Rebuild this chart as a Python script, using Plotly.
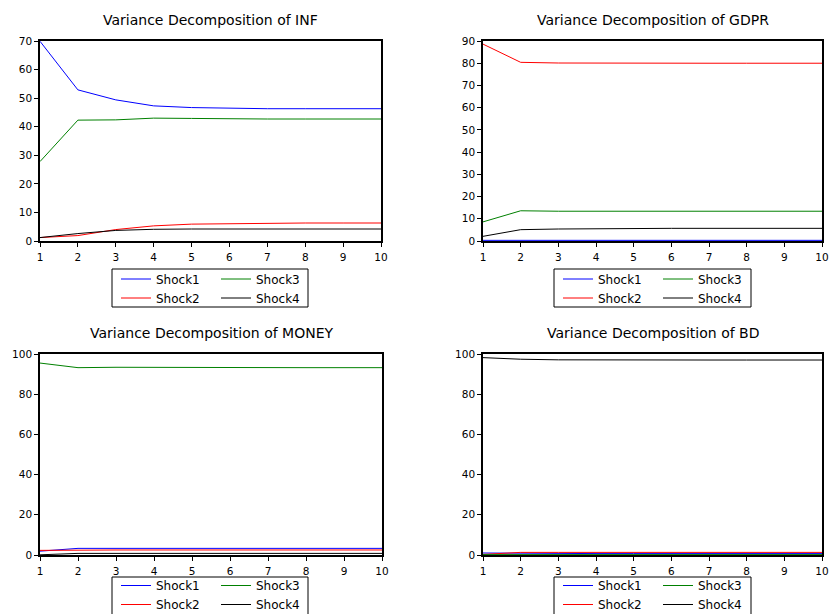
import plotly.graph_objects as go

periods = [1, 2, 3, 4, 5, 6, 7, 8, 9, 10]
shock_names = ["Shock1", "Shock2", "Shock3", "Shock4"]
shock_colors = ["#0000ff", "#ff0000", "#008000", "#000000"]

# Variance decomposition of INF
inf_shock1 = [69.9, 52.9, 49.4, 47.3, 46.7, 46.4, 46.3, 46.3, 46.3, 46.3]
inf_shock2 = [1.2, 1.9, 4.0, 5.3, 5.9, 6.1, 6.3, 6.3, 6.3, 6.3]
inf_shock3 = [27.8, 42.3, 42.4, 43.0, 42.9, 42.7, 42.7, 42.7, 42.7, 42.7]
inf_shock4 = [1.2, 2.6, 3.7, 4.1, 4.2, 4.2, 4.2, 4.2, 4.2, 4.2]

# Variance decomposition of GDPR
gdpr_shock1 = [0.3, 0.3, 0.3, 0.3, 0.3, 0.3, 0.3, 0.3, 0.3, 0.3]
gdpr_shock2 = [88.6, 80.4, 80.1, 80.0, 80.0, 80.0, 80.0, 80.0, 80.0, 80.0]
gdpr_shock3 = [8.6, 13.6, 13.4, 13.4, 13.4, 13.4, 13.4, 13.4, 13.4, 13.4]
gdpr_shock4 = [2.1, 5.1, 5.4, 5.6, 5.7, 5.7, 5.7, 5.7, 5.7, 5.7]

# Variance decomposition of MONEY
money_shock1 = [1.9, 3.3, 3.3, 3.3, 3.3, 3.3, 3.3, 3.3, 3.3, 3.3]
money_shock2 = [2.3, 2.5, 2.5, 2.5, 2.5, 2.5, 2.5, 2.5, 2.5, 2.5]
money_shock3 = [95.5, 93.2, 93.4, 93.3, 93.2, 93.2, 93.2, 93.2, 93.2, 93.2]
money_shock4 = [0.1, 0.8, 0.8, 0.8, 0.8, 0.8, 0.8, 0.8, 0.8, 0.8]

# Variance decomposition of BD
bd_shock1 = [1.0, 0.8, 0.7, 0.7, 0.7, 0.7, 0.7, 0.7, 0.7, 0.7]
bd_shock2 = [0.3, 1.3, 1.3, 1.3, 1.3, 1.3, 1.3, 1.3, 1.3, 1.3]
bd_shock3 = [0.2, 0.2, 0.2, 0.2, 0.2, 0.2, 0.2, 0.2, 0.2, 0.2]
bd_shock4 = [98.2, 97.4, 97.1, 97.0, 97.0, 97.0, 97.0, 97.0, 97.0, 97.0]

panel_titles = ["Variance Decomposition of INF", "Variance Decomposition of GDPR",
                "Variance Decomposition of MONEY", "Variance Decomposition of BD"]
panel_series = [
    [inf_shock1, inf_shock2, inf_shock3, inf_shock4],
    [gdpr_shock1, gdpr_shock2, gdpr_shock3, gdpr_shock4],
    [money_shock1, money_shock2, money_shock3, money_shock4],
    [bd_shock1, bd_shock2, bd_shock3, bd_shock4],
]
y_ranges = [[0, 70], [0, 90], [0, 100], [0, 100]]
y_dticks = [10, 10, 20, 20]

W, H = 830, 614
# plot areas in pixels: (left, right, top, bottom)
areas = [(40, 381, 41, 241), (483, 822, 41, 241), (40, 382, 354, 555), (483, 822, 354, 555)]
# legend boxes in pixels (left, right, top, bottom)
legend_boxes = [(112, 308, 269, 307), (554, 751, 269, 307), (112, 308, 577, 620), (554, 751, 577, 620)]
# top edge (px) of the plotly legend groups for each panel
legend_tops = [264.5, 264.5, 571, 571]

FONT = "DejaVu Sans, Liberation Sans, Arial, sans-serif"

fig = go.Figure()
layout = dict(width=W, height=H,
              margin=dict(l=0, r=0, t=0, b=0, pad=0, autoexpand=False),
              paper_bgcolor="white", plot_bgcolor="white",
              font=dict(family=FONT, size=11, color="#000000"))
annotations = []
shapes = []

for i in range(4):
    ax = "" if i == 0 else str(i + 1)
    l, r, t, b = areas[i]
    layout["xaxis" + ax] = dict(
        domain=[l / W, r / W], anchor="y" + ax, range=[1, 10],
        tickmode="array", tickvals=periods, ticktext=[str(p) for p in periods],
        ticks="outside", ticklen=4, tickwidth=1, tickcolor="#000",
        ticklabelstandoff=2, ticklabeloverflow="allow",
        showline=True, linecolor="#000", linewidth=1.5, mirror=True,
        showgrid=False, zeroline=False, tickfont=dict(size=10.5, family=FONT))
    layout["yaxis" + ax] = dict(
        domain=[1 - b / H, 1 - t / H], anchor="x" + ax, range=y_ranges[i],
        dtick=y_dticks[i], tick0=0,
        ticks="outside", ticklen=4, tickwidth=1, tickcolor="#000",
        showline=True, linecolor="#000", linewidth=1.5, mirror=True,
        showgrid=False, zeroline=False, tickfont=dict(size=10.5, family=FONT))
    annotations.append(dict(text=panel_titles[i], x=(l + r) / 2 / W, y=1 - (t - 21) / H,
                            xref="paper", yref="paper", showarrow=False,
                            xanchor="center", yanchor="middle",
                            font=dict(size=14, family=FONT)))
    lb = legend_boxes[i]
    shapes.append(dict(type="rect", xref="paper", yref="paper",
                       x0=lb[0] / W, x1=lb[1] / W, y0=1 - lb[3] / H, y1=1 - lb[2] / H,
                       line=dict(color="#000", width=1), fillcolor="rgba(0,0,0,0)"))
    leg_left = "legend" if i == 0 else "legend" + str(2 * i + 1)
    leg_right = "legend" + str(2 * i + 2)
    for lname, x0 in ((leg_left, lb[0] + 4), (leg_right, lb[0] + 104)):
        layout[lname] = dict(x=x0 / W, y=1 - legend_tops[i] / H, xanchor="left", yanchor="top",
                             xref="paper", yref="paper", bgcolor="rgba(0,0,0,0)",
                             borderwidth=0, font=dict(size=12, family=FONT),
                             orientation="v", tracegroupgap=0)
    for k in range(4):
        fig.add_trace(go.Scatter(
            x=periods, y=panel_series[i][k], mode="lines", name=shock_names[k],
            line=dict(color=shock_colors[k], width=1),
            xaxis="x" + ax, yaxis="y" + ax,
            legend=leg_left if k < 2 else leg_right,
            showlegend=True, hoverinfo="skip"))

layout["annotations"] = annotations
layout["shapes"] = shapes
fig.update_layout(**layout)
fig.write_html("out.html")
